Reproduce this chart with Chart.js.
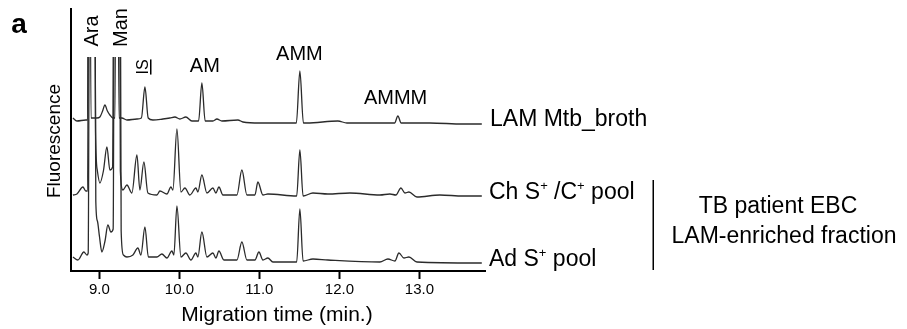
<!DOCTYPE html>
<html><head><meta charset="utf-8">
<script src="https://cdn.jsdelivr.net/npm/chart.js@4"></script>
<style>html,body{margin:0;padding:0;background:#fff;}#wrap{width:907px;height:329px;position:relative}</style>
</head><body><div id="wrap"><canvas id="c" width="907" height="329"></canvas></div>
<script>
// ---- data (migration time in min, fluorescence in a.u. with stacking offsets) ----
const tickValues = [9, 10, 11, 12, 13];
const tickLabels = ['9.0', '10.0', '11.0', '12.0', '13.0'];
const seriesNames = ['LAM Mtb_broth', 'Ch S+ /C+ pool', 'Ad S+ pool'];

const timeBroth = [8.669, 8.719, 8.830, 8.852, 8.872, 8.895, 8.969, 9.006, 9.040, 9.069, 9.100, 9.131, 9.169, 9.195, 9.217, 9.245, 9.281, 9.344, 9.469, 9.525, 9.569, 9.610, 9.669, 9.794, 9.881, 9.944, 10.006, 10.081, 10.156, 10.240, 10.281, 10.322, 10.419, 10.469, 10.531, 10.731, 10.794, 11.006, 11.462, 11.506, 11.550, 11.594, 11.981, 12.094, 12.690, 12.731, 12.772, 13.131, 13.544, 13.780];
const fluoBroth = [153, 150, 151, 151, 600, 153, 153, 154, 160, 166, 160, 156, 153, 153, 600, 153, 153, 151, 152, 153, 184, 153, 151, 152, 153, 154, 152, 154, 150, 150, 188, 150, 150, 152, 150, 151, 149, 148, 148, 200, 148, 148, 150, 148, 148, 155, 148, 148, 147, 147];

const timeChild = [8.669, 8.719, 8.794, 8.830, 8.852, 8.875, 8.925, 8.952, 8.975, 9.006, 9.050, 9.094, 9.131, 9.165, 9.190, 9.240, 9.262, 9.294, 9.344, 9.406, 9.469, 9.506, 9.556, 9.606, 9.719, 9.756, 9.844, 9.894, 9.919, 9.969, 10.019, 10.069, 10.131, 10.206, 10.231, 10.281, 10.344, 10.419, 10.456, 10.494, 10.544, 10.719, 10.781, 10.844, 10.944, 10.981, 11.044, 11.106, 11.466, 11.506, 11.546, 11.669, 11.856, 12.131, 12.506, 12.631, 12.706, 12.769, 12.819, 12.869, 12.969, 13.256, 13.544, 13.780];
const fluoChild = [76, 77, 84, 80, 80, 600, 600, 140, 100, 88, 100, 124, 101, 104, 600, 600, 100, 81, 86, 78, 116, 81, 109, 78, 76, 80, 77, 84, 81, 142, 79, 83, 76, 83, 79, 96, 78, 83, 78, 84, 76, 76, 101, 76, 76, 89, 76, 77, 75, 121, 75, 78, 77, 78, 76, 77, 76, 83, 78, 79, 74, 76, 75, 75];

const timeAdult = [8.669, 8.731, 8.806, 8.844, 8.860, 8.885, 8.930, 8.955, 8.975, 9.000, 9.031, 9.070, 9.106, 9.144, 9.172, 9.195, 9.250, 9.272, 9.300, 9.344, 9.419, 9.481, 9.519, 9.569, 9.612, 9.719, 9.781, 9.844, 9.906, 9.931, 9.969, 10.019, 10.081, 10.144, 10.206, 10.231, 10.281, 10.344, 10.419, 10.456, 10.494, 10.556, 10.719, 10.781, 10.844, 10.944, 10.994, 11.044, 11.106, 11.169, 11.466, 11.506, 11.546, 11.669, 11.856, 12.506, 12.606, 12.694, 12.744, 12.806, 12.869, 12.969, 13.780];
const fluoAdult = [14, 11, 19, 16, 18, 600, 600, 70, 50, 35, 19, 30, 46, 39, 42, 600, 600, 40, 16, 14, 16, 23, 16, 44, 14, 14, 17, 13, 20, 16, 65, 14, 18, 11, 18, 14, 39, 14, 18, 13, 20, 11, 11, 29, 11, 11, 19, 11, 13, 9, 9, 62, 10, 12, 11, 9, 12, 10, 18, 13, 14, 9, 8];

const peakNames = ['AM', 'AMM', 'AMMM'];
const peakTimes = [10.28, 11.50, 12.74];
const displayCeiling = 214; // traces are cut off above this level
const xMin = 8.645, xMax = 13.82, yMin = 0, yMax = 262;

const FONT = '"Liberation Sans", Arial, sans-serif';
const pts = (t, v) => t.map((x, i) => ({x: x, y: v[i]}));
const lineStyle = {borderColor: '#2b2b2b', borderWidth: 1.3, pointRadius: 0, cubicInterpolationMode: 'monotone', fill: false};

const clipPlugin = {
  id: 'ceilingClip',
  beforeDatasetsDraw(chart) {
    const {ctx, chartArea: a, scales: {y}} = chart;
    const top = y.getPixelForValue(displayCeiling);
    ctx.save();
    ctx.beginPath();
    ctx.rect(a.left, top, a.right - a.left, a.bottom - top);
    ctx.clip();
  },
  afterDatasetsDraw(chart) { chart.ctx.restore(); }
};

function rich(ctx, segs, x, y, size) {
  let cx = x;
  for (const s of segs) {
    const fs = s.sup ? Math.round(size * 0.58) : size;
    ctx.font = fs + 'px ' + FONT;
    ctx.textBaseline = 'middle';
    ctx.textAlign = 'left';
    ctx.fillText(s.t, cx, s.sup ? y - size * 0.3 : y);
    cx += ctx.measureText(s.t).width;
  }
}

const textPlugin = {
  id: 'texts',
  afterDraw(chart) {
    const {ctx, scales: {x}} = chart;
    ctx.save();
    ctx.fillStyle = '#000';
    // panel letter
    ctx.font = 'bold 28px ' + FONT;
    ctx.textAlign = 'center'; ctx.textBaseline = 'alphabetic';
    ctx.fillText('a', 19, 33);
    // y title
    ctx.save();
    ctx.translate(55, 141); ctx.rotate(-Math.PI / 2);
    ctx.font = '19px ' + FONT; ctx.textAlign = 'center'; ctx.textBaseline = 'middle';
    ctx.fillText('Fluorescence', 0, 0);
    ctx.restore();
    // x title
    ctx.font = '21px ' + FONT; ctx.textAlign = 'center'; ctx.textBaseline = 'middle';
    ctx.fillText('Migration time (min.)', 277, 315);
    // rotated sugar labels
    const rot = (txt, cx, cy, size, underline) => {
      ctx.save();
      ctx.translate(cx, cy); ctx.rotate(-Math.PI / 2);
      ctx.font = size + 'px ' + FONT; ctx.textAlign = 'center'; ctx.textBaseline = 'alphabetic';
      ctx.fillText(txt, 0, 0);
      if (underline) {
        const w = ctx.measureText(txt).width;
        ctx.fillRect(-w / 2, 2, w, 1.5);
      }
      ctx.restore();
    };
    rot('Ara', 98, 31, 20, false);
    rot('Man', 127, 27.5, 20, false);
    rot('IS', 148, 67, 16, true);
    // peak labels
    ctx.font = '20px ' + FONT; ctx.textAlign = 'center'; ctx.textBaseline = 'middle';
    const peakY = [66, 54, 98];
    const peakDx = [3, 0, -3];
    peakNames.forEach((n, i) => ctx.fillText(n, x.getPixelForValue(peakTimes[i]) + peakDx[i], peakY[i]));
    // series labels
    rich(ctx, [{t: 'LAM Mtb_broth'}], 490, 120, 23);
    rich(ctx, [{t: 'Ch S'}, {t: '+', sup: true}, {t: ' /C'}, {t: '+', sup: true}, {t: ' pool'}], 489, 193, 23);
    rich(ctx, [{t: 'Ad S'}, {t: '+', sup: true}, {t: ' pool'}], 489, 260, 23);
    // bracket line
    ctx.fillRect(652.5, 180, 1.5, 90);
    ctx.font = '23px ' + FONT; ctx.textAlign = 'center'; ctx.textBaseline = 'middle';
    ctx.fillText('TB patient EBC', 778, 207);
    ctx.fillText('LAM-enriched fraction', 784, 237);
    ctx.restore();
  }
};

new Chart(document.getElementById('c'), {
  type: 'line',
  data: {
    datasets: [
      Object.assign({label: seriesNames[0], data: pts(timeBroth, fluoBroth)}, lineStyle),
      Object.assign({label: seriesNames[1], data: pts(timeChild, fluoChild)}, lineStyle),
      Object.assign({label: seriesNames[2], data: pts(timeAdult, fluoAdult)}, lineStyle)
    ]
  },
  options: {
    responsive: false, animation: false,
    layout: {padding: {left: 0, top: 9, right: 422, bottom: 0}},
    plugins: {legend: {display: false}, tooltip: {enabled: false}},
    scales: {
      x: {
        type: 'linear', min: xMin, max: xMax,
        afterBuildTicks: s => { s.ticks = tickValues.map(v => ({value: v})); },
        afterFit: s => { s.height = 58; },
        ticks: {color: '#000', font: {size: 15, family: FONT}, padding: 2, maxRotation: 0,
          callback: v => tickLabels[tickValues.indexOf(v)]},
        grid: {display: true, drawOnChartArea: false, drawTicks: true, tickLength: 8, tickWidth: 2, tickColor: '#000'},
        border: {display: true, color: '#000', width: 2}
      },
      y: {
        type: 'linear', min: yMin, max: yMax,
        afterFit: s => { s.width = 71; },
        ticks: {display: false},
        grid: {display: false},
        border: {display: true, color: '#000', width: 2}
      }
    }
  },
  plugins: [clipPlugin, textPlugin]
});
</script></body></html>
